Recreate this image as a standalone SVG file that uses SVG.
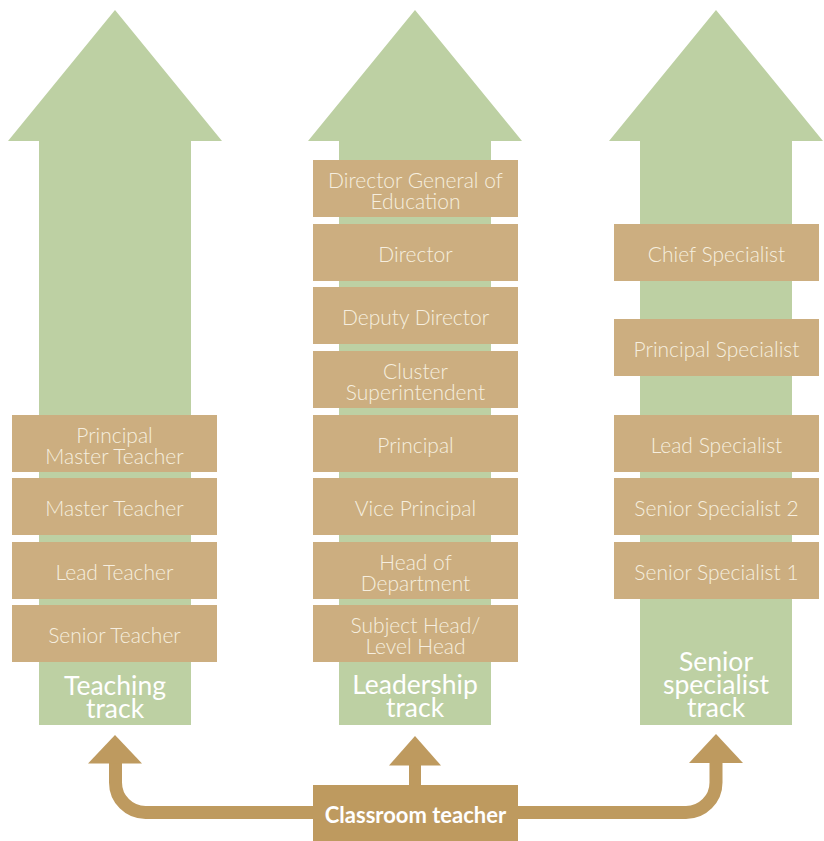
<svg xmlns="http://www.w3.org/2000/svg" width="824" height="841" viewBox="0 0 824 841">
  <style>
    .track { fill: #bdd0a3; }
    .box { fill: #ccae80; }
    .lbl { font-family: "Lato", "Liberation Sans", sans-serif; font-weight: 300; font-size: 21px; fill: #f6eedf; text-anchor: middle; }
    .trk { font-family: "Lato", "Liberation Sans", sans-serif; font-weight: 400; font-size: 26.5px; fill: #ffffff; text-anchor: middle; }
    .link { fill: none; stroke: #be9a5f; stroke-width: 13; }
    .head { fill: #be9a5f; }
    .start { fill: #be9a5f; }
    .startlbl { font-family: "Lato", "Liberation Sans", sans-serif; font-weight: 700; font-size: 22px; fill: #ffffff; text-anchor: middle; }
  </style>

  <!-- Three career tracks: big upward arrows -->
  <g id="teaching-track">
    <polygon class="track" points="115,10 222,141 191,141 191,725 39,725 39,141 8,141"/>
    <text class="trk" x="115" y="695">Teaching</text>
    <text class="trk" x="115" y="718">track</text>
  </g>
  <g id="leadership-track">
    <polygon class="track" points="415,10 522,141 491,141 491,725 339,725 339,141 308,141"/>
    <text class="trk" x="415" y="694">Leadership</text>
    <text class="trk" x="415" y="717">track</text>
  </g>
  <g id="specialist-track">
    <polygon class="track" points="716,10 823,141 792,141 792,725 640,725 640,141 609,141"/>
    <text class="trk" x="716" y="671">Senior</text>
    <text class="trk" x="716" y="694">specialist</text>
    <text class="trk" x="716" y="717">track</text>
  </g>

  <!-- Teaching track grades -->
  <g id="principal-master-teacher">
    <rect class="box" x="12" y="415" width="205" height="57"/>
    <text class="lbl" x="114.5" y="443">Principal</text>
    <text class="lbl" x="114.5" y="464">Master Teacher</text>
  </g>
  <g id="master-teacher">
    <rect class="box" x="12" y="478" width="205" height="57"/>
    <text class="lbl" x="114.5" y="516">Master Teacher</text>
  </g>
  <g id="lead-teacher">
    <rect class="box" x="12" y="542" width="205" height="57"/>
    <text class="lbl" x="114.5" y="580">Lead Teacher</text>
  </g>
  <g id="senior-teacher">
    <rect class="box" x="12" y="605" width="205" height="57"/>
    <text class="lbl" x="114.5" y="643">Senior Teacher</text>
  </g>

  <!-- Leadership track grades -->
  <g id="director-general">
    <rect class="box" x="313" y="160" width="205" height="57"/>
    <text class="lbl" x="415.5" y="188">Director General of</text>
    <text class="lbl" x="415.5" y="209">Education</text>
  </g>
  <g id="director">
    <rect class="box" x="313" y="224" width="205" height="57"/>
    <text class="lbl" x="415.5" y="262">Director</text>
  </g>
  <g id="deputy-director">
    <rect class="box" x="313" y="287" width="205" height="57"/>
    <text class="lbl" x="415.5" y="325">Deputy Director</text>
  </g>
  <g id="cluster-superintendent">
    <rect class="box" x="313" y="351" width="205" height="57"/>
    <text class="lbl" x="415.5" y="379">Cluster</text>
    <text class="lbl" x="415.5" y="400">Superintendent</text>
  </g>
  <g id="principal">
    <rect class="box" x="313" y="415" width="205" height="57"/>
    <text class="lbl" x="415.5" y="453">Principal</text>
  </g>
  <g id="vice-principal">
    <rect class="box" x="313" y="478" width="205" height="57"/>
    <text class="lbl" x="415.5" y="516">Vice Principal</text>
  </g>
  <g id="head-of-department">
    <rect class="box" x="313" y="542" width="205" height="57"/>
    <text class="lbl" x="415.5" y="570">Head of</text>
    <text class="lbl" x="415.5" y="591">Department</text>
  </g>
  <g id="subject-head">
    <rect class="box" x="313" y="605" width="205" height="57"/>
    <text class="lbl" x="415.5" y="633">Subject Head/</text>
    <text class="lbl" x="415.5" y="654">Level Head</text>
  </g>

  <!-- Senior specialist track grades -->
  <g id="chief-specialist">
    <rect class="box" x="614" y="224" width="205" height="57"/>
    <text class="lbl" x="716.5" y="262">Chief Specialist</text>
  </g>
  <g id="principal-specialist">
    <rect class="box" x="614" y="319" width="205" height="57"/>
    <text class="lbl" x="716.5" y="357">Principal Specialist</text>
  </g>
  <g id="lead-specialist">
    <rect class="box" x="614" y="415" width="205" height="57"/>
    <text class="lbl" x="716.5" y="453">Lead Specialist</text>
  </g>
  <g id="senior-specialist-2">
    <rect class="box" x="614" y="478" width="205" height="57"/>
    <text class="lbl" x="716.5" y="516">Senior Specialist 2</text>
  </g>
  <g id="senior-specialist-1">
    <rect class="box" x="614" y="542" width="205" height="57"/>
    <text class="lbl" x="716.5" y="580">Senior Specialist 1</text>
  </g>

  <!-- Branches from the starting grade into each track -->
  <g id="connectors">
    <path class="link" d="M115.5,760 V782.5 A30,30 0 0 0 145.5,812.5 H686 A30,30 0 0 0 716,782.5 V760"/>
    <polygon class="head" points="115,735 88,763.5 142,763.5"/>
    <rect class="head" x="409" y="764" width="12" height="23"/>
    <polygon class="head" points="415,736 389,765.5 441,765.5"/>
    <polygon class="head" points="716,734 689,763 743,763"/>
  </g>

  <g id="classroom-teacher">
    <rect class="start" x="313" y="785" width="205" height="56"/>
    <text class="startlbl" x="415.5" y="823">Classroom teacher</text>
  </g>
</svg>
